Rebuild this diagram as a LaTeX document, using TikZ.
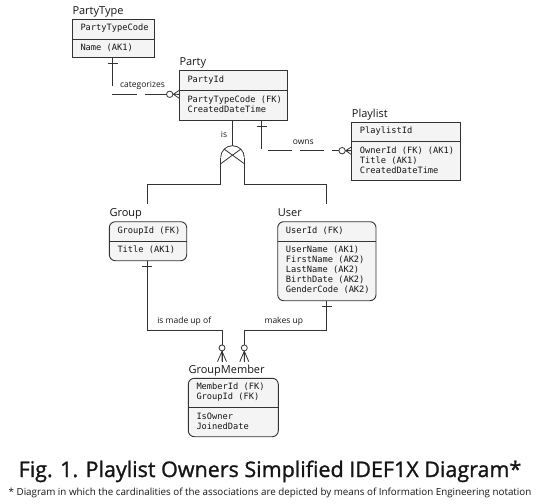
\documentclass[tikz,border=0pt]{standalone}
\usepackage{fontspec}
\setmainfont{Open Sans}
\newfontfamily\monof{DejaVu Sans Mono}
\newfontfamily\capf[FakeBold=1.2]{Open Sans}
\usetikzlibrary{calc}
\definecolor{ln}{HTML}{333333}
\definecolor{bx}{HTML}{F4F4F4}
\definecolor{tx}{HTML}{151515}
\newcommand\erows[4]{\foreach \t [count=\i from 0] in {#4} {\node[row] (#1-#2\i) at ([xshift=8pt,yshift={-(#3+10*\i)*1pt}]#1.north west) {\t};}}
\newcommand\zmH[1]{\draw[conn] (#1) ++(-6,0) -- ++(6,-4) (#1) ++(-6,0) -- ++(6,4) (#1) ++(-6,0) -- (#1);
 \draw[zc] (#1) ++(-9.6,0) circle[radius=3.2];}
\newcommand\zmV[1]{\draw[conn] (#1) ++(0,-10.5) -- ++(-4.5,10.5) (#1) ++(0,-10.5) -- ++(4.5,10.5) (#1) ++(0,-10.5) -- (#1);
 \draw[zc] (#1) ++(0,-13.8) circle[radius=3];}
\newcommand\tick[1]{\draw[conn] ([xshift=-5pt]#1) -- ([xshift=5pt]#1);}
\begin{document}
\begin{tikzpicture}[x=1pt,y=-1pt,
 entity/.style={draw=ln, fill=bx, line width=0.9pt, anchor=north west, inner sep=0pt, outer sep=0pt, rectangle},
 dep/.style={entity, rounded corners=6pt},
 ttl/.style={anchor=base west, inner sep=0pt, font=\fontsize{11}{13}\selectfont, text=tx},
 row/.style={anchor=base west, inner sep=0pt, font=\monof\fontsize{8.7}{10}\selectfont, text=tx},
 lbl/.style={anchor=base, inner sep=0pt, font=\fontsize{8.5}{10}\selectfont, text=tx},
 conn/.style={draw=ln, line width=0.8pt},
 divider/.style={draw=ln, line width=0.9pt},
 nonid/.style={conn, dash pattern=on 29pt off 8pt on 24pt off 8pt on 24pt off 8pt on 24pt off 8pt on 24pt off 8pt},
 zc/.style={draw=ln, fill=white, line width=0.8pt}
]
\useasboundingbox (0,0) rectangle (540,503);

% entities
\node[entity, minimum width=82pt, minimum height=38.3pt] (ptype) at (72.3,19) {};
\node[entity, minimum width=108pt, minimum height=50pt] (party) at (179.3,70) {};
\node[entity, minimum width=109pt, minimum height=58.4pt] (plist) at (351.7,122.3) {};
\node[dep, minimum width=77.4pt, minimum height=39pt] (group) at (109.3,221.7) {};
\node[dep, minimum width=98.3pt, minimum height=79pt] (user) at (277.7,221.7) {};
\node[dep, minimum width=90pt, minimum height=58.4pt] (gm) at (188.3,378.3) {};

% dividers
\draw[divider] ([yshift=-20pt]ptype.north west) -- ([yshift=-20pt]ptype.north east);
\draw[divider] ([yshift=-20pt]party.north west) -- ([yshift=-20pt]party.north east);
\draw[divider] ([yshift=-19.4pt]plist.north west) -- ([yshift=-19.4pt]plist.north east);
\draw[divider] ([yshift=-19.3pt]group.north west) -- ([yshift=-19.3pt]group.north east);
\draw[divider] ([yshift=-19.3pt]user.north west) -- ([yshift=-19.3pt]user.north east);
\draw[divider] ([yshift=-29pt]gm.north west) -- ([yshift=-29pt]gm.north east);

% titles
\node[ttl] (ptype-t) at ([yshift=4.8pt]ptype.north west) {PartyType};
\node[ttl] (party-t) at ([yshift=4.5pt]party.north west) {Party};
\node[ttl] (plist-t) at ([yshift=4.8pt]plist.north west) {Playlist};
\node[ttl] (group-t) at ([yshift=4.8pt]group.north west) {Group};
\node[ttl] (user-t) at ([yshift=4.8pt]user.north west) {User};
\node[ttl] (gm-t) at ([yshift=4.8pt]gm.north west) {GroupMember};

% rows
\erows{ptype}{a}{11.7}{PartyTypeCode}
\erows{ptype}{b}{32}{Name (AK1)}
\erows{party}{a}{12.5}{PartyId}
\erows{party}{b}{32}{PartyTypeCode (FK), CreatedDateTime}
\erows{plist}{a}{11.2}{PlaylistId}
\erows{plist}{b}{31}{OwnerId (FK) (AK1), Title (AK1), CreatedDateTime}
\erows{group}{a}{11.8}{GroupId (FK)}
\erows{group}{b}{31.2}{Title (AK1)}
\erows{user}{a}{11.8}{UserId (FK)}
\erows{user}{b}{31.2}{UserName (AK1), FirstName (AK2), LastName (AK2), BirthDate (AK2), GenderCode (AK2)}
\erows{gm}{a}{11.6}{MemberId (FK), GroupId (FK)}
\erows{gm}{b}{41.2}{IsOwner, JoinedDate}

% tick positions
\coordinate (t1) at ([xshift=40.4pt,yshift=-6pt]ptype.south west);
\coordinate (t2) at ([xshift=82.4pt,yshift=-6.5pt]party.south west);
\coordinate (t3) at ([xshift=38pt,yshift=-6pt]group.south west);
\coordinate (t4) at ([xshift=49pt,yshift=-6pt]user.south west);

% categorizes
\coordinate (e1) at ([yshift=-24.3pt]party.north west);
\draw[nonid] ([xshift=40.4pt]ptype.south west) |- (e1);
\tick{t1}
\zmH{e1}
\node[lbl] (l1) at (142.5,87.5) {categorizes};

% owns
\coordinate (e2) at ([yshift=-28.4pt]plist.north west);
\draw[nonid] ([xshift=82.4pt]party.south west) |- (e2);
\tick{t2}
\zmH{e2}
\node[lbl] (l2) at (303.3,144) {owns};

% category
\coordinate (cat) at (232.5,157.5);
\draw[conn] ([xshift=53.2pt]party.south west) -- ([yshift=11.8pt]cat);
\node[lbl] (l3) at (224,137) {is};
\draw[conn] ([xshift=-11.8pt]cat) arc[start angle=180,end angle=360,radius=11.8];
\draw[conn] (cat) ++(-11.5,6) -- ++(20,-14.5);
\draw[conn] (cat) ++(11.5,6) -- ++(-20,-14.5);
\draw[conn] ([xshift=-11.8pt]cat) -- ++(0,26.5) -| ([xshift=38pt,yshift=17.7pt]group.north west);
\draw[conn] ([xshift=11.8pt]cat) -- ++(0,26.5) -| ([xshift=49pt,yshift=17.7pt]user.north west);

% group / user -> groupmember
\coordinate (e3) at ([xshift=33.7pt,yshift=16.6pt]gm.north west);
\coordinate (e4) at ([xshift=56pt,yshift=16.6pt]gm.north west);
\draw[conn] ([xshift=38pt]group.south west) -- ++(0,70) -| (e3);
\draw[conn] ([xshift=49pt]user.south west) -- ++(0,30) -| (e4);
\tick{t3}
\tick{t4}
\zmV{e3}
\zmV{e4}
\node[lbl] (l4) at (184.2,323) {is made up of};
\node[lbl] (l5) at (283.8,323) {makes up};

% caption
\node[anchor=base, inner sep=0pt, font=\capf\fontsize{21.5}{25}\selectfont, text=tx] (cap) at (270,477) {Fig. 1. Playlist Owners Simplified IDEF1X Diagram*};
\node[anchor=base, inner sep=0pt, font=\fontsize{9.8}{12}\selectfont, text=tx] (note) at (270,495.5) {* Diagram in which the cardinalities of the associations are depicted by means of Information Engineering notation};
\end{tikzpicture}
\end{document}
